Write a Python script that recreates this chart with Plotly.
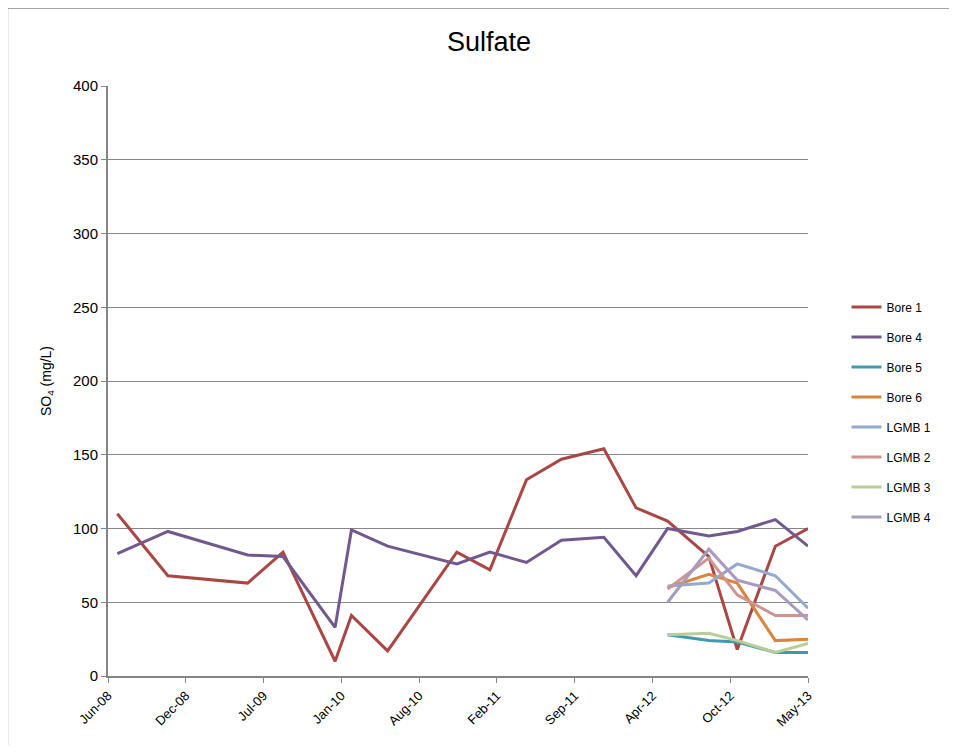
import plotly.graph_objects as go

# ------------------------------------------------------------
# Sulfate concentrations per bore / monitoring bore
# ------------------------------------------------------------
bore1_dates = ["2008-06-26", "2008-11-03", "2009-05-27", "2009-08-26", "2010-01-07",
               "2010-02-18", "2010-05-22", "2010-11-16", "2011-02-09", "2011-05-14",
               "2011-08-12", "2011-11-29", "2012-02-20", "2012-05-11", "2012-08-25",
               "2012-11-06", "2013-02-12", "2013-05-07"]
bore1_vals = [110, 68, 63, 84, 10, 41, 17, 84, 72, 133, 147, 154, 114, 105, 81, 18, 88, 100]

bore4_dates = bore1_dates
bore4_vals = [83, 98, 82, 81, 33, 99, 88, 76, 84, 77, 92, 94, 68, 100, 95, 98, 106, 88]

late_dates = ["2012-05-11", "2012-08-25", "2012-11-06", "2013-02-12", "2013-05-07"]
bore5_vals = [28, 24, 23, 16, 16]
bore6_vals = [60, 69, 63, 24, 25]
lgmb1_vals = [61, 63, 76, 68, 46]
lgmb2_vals = [59, 80, 55, 41, 41]
lgmb3_vals = [28, 29, 24, 16, 22]
lgmb4_vals = [50, 86, 65, 58, 38]

tick_dates = ["2008-06-02", "2008-12-19", "2009-07-07", "2010-01-23", "2010-08-11",
              "2011-02-27", "2011-09-15", "2012-04-02", "2012-10-19", "2013-05-07"]
tick_labels = ["Jun-08", "Dec-08", "Jul-09", "Jan-10", "Aug-10",
               "Feb-11", "Sep-11", "Apr-12", "Oct-12", "May-13"]

series = [
    ("Bore 1", bore1_dates, bore1_vals, "#AA4643"),
    ("Bore 4", bore4_dates, bore4_vals, "#71588F"),
    ("Bore 5", late_dates, bore5_vals, "#4198AF"),
    ("Bore 6", late_dates, bore6_vals, "#DB843D"),
    ("LGMB 1", late_dates, lgmb1_vals, "#93A9CF"),
    ("LGMB 2", late_dates, lgmb2_vals, "#D19392"),
    ("LGMB 3", late_dates, lgmb3_vals, "#B9CD96"),
    ("LGMB 4", late_dates, lgmb4_vals, "#A99BBD"),
]

FONT = "Liberation Sans Narrow, Liberation Sans, Arial"

# page body has an 8px margin, so the figure is sized to fit inside it
W, H = 941, 737

fig = go.Figure()
for name, xs, ys, col in series:
    fig.add_trace(go.Scatter(
        x=xs, y=ys, name=name, mode="lines",
        line=dict(color=col, width=3),
        legendgroup=name,
    ))

fig.update_layout(
    width=W, height=H,
    margin=dict(l=100, r=138, t=78, b=69),
    paper_bgcolor="white",
    plot_bgcolor="white",
    font=dict(family=FONT, color="black", size=13),
    title=dict(text="Sulfate", x=481 / W, xanchor="center", y=1 - 34 / H,
               yanchor="middle", font=dict(size=27, family=FONT)),
    showlegend=True,
    legend=dict(x=1.055, y=0.65, xanchor="left", yanchor="top",
                tracegroupgap=11, font=dict(size=12, family=FONT),
                bgcolor="rgba(0,0,0,0)"),
)

fig.update_xaxes(
    type="date",
    range=["2008-06-02", "2013-05-07"],
    tickvals=tick_dates, ticktext=tick_labels,
    tickangle=-45,
    showgrid=False,
    showline=True, linecolor="#868686", linewidth=2,
    ticks="outside", ticklen=5, tickcolor="#868686",
    tickfont=dict(size=13),
    zeroline=False,
)
fig.update_yaxes(
    range=[0, 400], dtick=50,
    showgrid=True, gridcolor="#868686", gridwidth=1,
    showline=True, linecolor="#868686", linewidth=2,
    ticks="outside", ticklen=5, tickcolor="#868686",
    tickfont=dict(size=15),
    title=dict(text="SO<sub>4</sub> (mg/L)", font=dict(size=14), standoff=18),
    zeroline=False,
)

# outer chart border: only the top and left edges show in the frame
border = dict(color="#868686", width=1.5)
fig.add_shape(type="line", xref="paper", yref="paper",
              x0=-101 / 703, x1=2, y0=668 / 590, y1=668 / 590, line=border)
fig.add_shape(type="line", xref="paper", yref="paper",
              x0=-101 / 703, x1=-101 / 703, y0=-1, y1=668 / 590, line=border)

fig.write_html("out.html")
